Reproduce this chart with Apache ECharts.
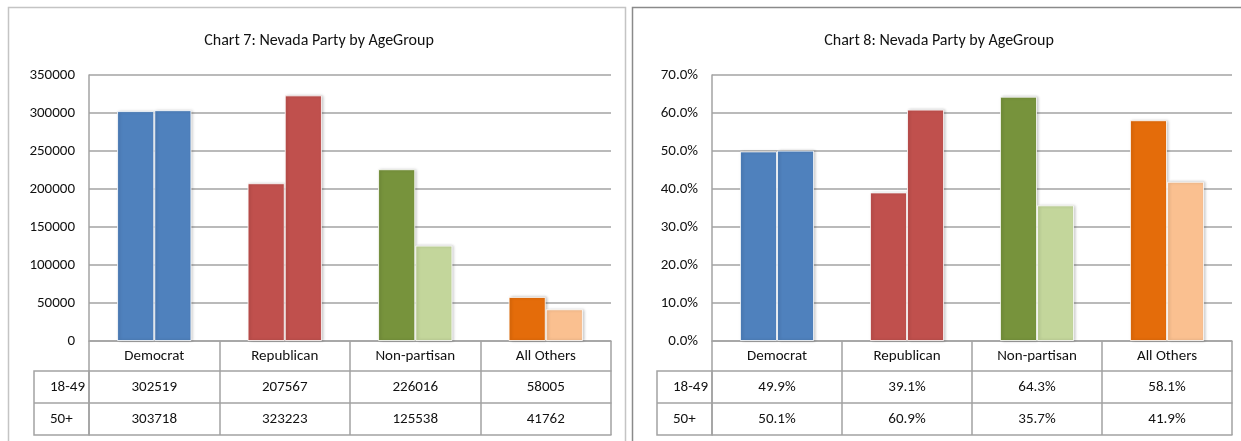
<!DOCTYPE html>
<html>
<head>
<meta charset="utf-8">
<script src="https://cdn.jsdelivr.net/npm/echarts@6/dist/echarts.min.js"></script>
<style>
  html, body { margin: 0; padding: 0; background: #fff; }
  #chart { width: 1241px; height: 441px; }
</style>
</head>
<body>
<div id="chart"></div>
<script>
// chart data
var categories = ["Democrat", "Republican", "Non-partisan", "All Others"];
var rowLabels = ["18-49", "50+"];
var count1849 = [302519, 207567, 226016, 58005];
var count50 = [303718, 323223, 125538, 41762];
var share1849 = [49.9, 39.1, 64.3, 58.1];
var share50 = [50.1, 60.9, 35.7, 41.9];
var titles = ["Chart 7: Nevada Party by AgeGroup", "Chart 8: Nevada Party by AgeGroup"];

// colours per party, light shade for the 50+ bars
var colors1849 = ["#4F81BD", "#C0504D", "#77933C", "#E46C0A"];
var colors50 = ["#4F81BD", "#C0504D", "#C3D69B", "#FAC090"];

var FONT = 'Carlito, "Liberation Sans Narrow", "DejaVu Sans Condensed", sans-serif';
var LINE = "#a3a3a3";
var TEXT = "#111";

var chart = echarts.init(document.getElementById("chart"));

function pct(v) {
  return v.toFixed(1) + "%";
}

// layout of the two panels
var panels = [
  { left: 89, width: 522, tableLeft: 34, titleX: 314, max: 350000, interval: 50000,
    rows: [count1849, count50], fmt: function (v) { return String(v); } },
  { left: 712, width: 520, tableLeft: 657, titleX: 934, max: 70, interval: 10,
    rows: [share1849, share50], fmt: pct }
];

var grids = [], xAxes = [], yAxes = [], series = [], titleList = [], graphics = [];

// panel frames
graphics.push({ type: "rect", shape: { x: 8.5, y: 7.5, width: 617, height: 460 },
  style: { fill: "none", stroke: "#c4c4c4", lineWidth: 1.5 }, silent: true });
graphics.push({ type: "rect", shape: { x: 632.5, y: 7.5, width: 640, height: 460 },
  style: { fill: "none", stroke: "#8a8a8a", lineWidth: 1.5 }, silent: true });

panels.forEach(function (p, g) {
  grids.push({ left: p.left, top: 75, width: p.width, height: 266 });

  titleList.push({
    text: titles[g],
    left: p.titleX,
    top: 28,
    textAlign: "center",
    textStyle: { fontFamily: FONT, fontSize: 16, fontWeight: "normal", color: TEXT }
  });

  // header row: category names
  xAxes.push({
    gridIndex: g, type: "category", data: categories, position: "bottom",
    axisLine: { show: true, lineStyle: { color: LINE, width: 1.5 } },
    axisTick: { show: true, interval: 0, length: 30, lineStyle: { color: LINE, width: 1.5 } },
    axisLabel: { interval: 0, margin: 15, verticalAlign: "middle", fontFamily: FONT, fontSize: 15, color: TEXT },
    splitLine: { show: false }
  });
  // table rows with the values
  p.rows.forEach(function (row, r) {
    xAxes.push({
      gridIndex: g, type: "category", data: row.map(p.fmt), position: "bottom", offset: 30 + r * 32,
      axisLine: { show: true, lineStyle: { color: LINE, width: 1.5 } },
      axisTick: { show: true, interval: 0, length: 32, lineStyle: { color: LINE, width: 1.5 } },
      axisLabel: { interval: 0, margin: 16, verticalAlign: "middle", fontFamily: FONT, fontSize: 15, color: TEXT },
      splitLine: { show: false }
    });
  });
  // bottom line of the table
  xAxes.push({
    gridIndex: g, type: "category", data: categories, position: "bottom", offset: 94,
    axisLine: { show: true, lineStyle: { color: LINE, width: 1.5 } },
    axisTick: { show: false }, axisLabel: { show: false }, splitLine: { show: false }
  });

  yAxes.push({
    gridIndex: g, type: "value", min: 0, max: p.max, interval: p.interval,
    axisLine: { show: true, lineStyle: { color: LINE, width: 1.5 } },
    axisTick: { show: false },
    axisLabel: {
      margin: 14, fontFamily: FONT, fontSize: 15, color: TEXT,
      formatter: g === 1 ? function (v) { return pct(v); } : function (v) { return String(v); }
    },
    splitLine: { show: true, lineStyle: { color: LINE, width: 1.5 } }
  });

  // row label column of the table
  var tx = p.tableLeft, ax = p.left;
  graphics.push({ type: "rect", shape: { x: tx, y: 371, width: ax - tx, height: 64 },
    style: { fill: "none", stroke: LINE, lineWidth: 1.5 }, silent: true });
  graphics.push({ type: "line", shape: { x1: tx, y1: 403, x2: ax, y2: 403 },
    style: { stroke: LINE, lineWidth: 1.5 }, silent: true });
  rowLabels.forEach(function (lab, r) {
    graphics.push({ type: "text", x: tx + 16, y: 387 + r * 32, silent: true,
      style: { text: lab, fontFamily: FONT, fontSize: 15, fill: TEXT, verticalAlign: "middle" } });
  });

  var xi = g * 4;
  [colors1849, colors50].forEach(function (cols, s) {
    series.push({
      name: rowLabels[s],
      type: "bar",
      xAxisIndex: xi,
      yAxisIndex: g,
      barGap: 0,
      barCategoryGap: "43%",
      data: p.rows[s].map(function (v, i) {
        return { value: v, itemStyle: { color: cols[i] } };
      }),
      itemStyle: {
        borderColor: "rgba(255,255,255,0.8)", borderWidth: 1,
        shadowColor: "rgba(0,0,0,0.25)", shadowBlur: 3, shadowOffsetX: 1.5, shadowOffsetY: 0
      }
    });
  });
});

chart.setOption({
  animation: false,
  title: titleList,
  grid: grids,
  xAxis: xAxes,
  yAxis: yAxes,
  series: series,
  graphic: graphics
});
</script>
</body>
</html>
